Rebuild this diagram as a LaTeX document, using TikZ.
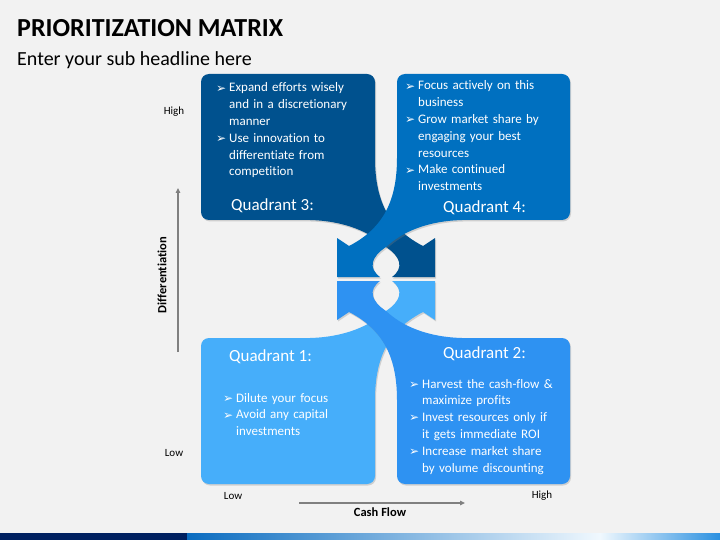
\documentclass[tikz,border=0pt]{standalone}
\usepackage{fontspec}
\setmainfont[Ligatures=NoCommon]{Carlito}
\newfontfamily\symf{DejaVu Sans}
\usetikzlibrary{arrows.meta,shadows}
\definecolor{bg}{RGB}{242,242,242}
\definecolor{qthree}{RGB}{0,81,142}
\definecolor{qfour}{RGB}{0,112,192}
\definecolor{qtwo}{RGB}{46,146,242}
\definecolor{qone}{RGB}{70,174,250}
\definecolor{barnavy}{RGB}{0,32,96}
\definecolor{barblue}{RGB}{10,108,192}
\definecolor{barcyan}{RGB}{40,178,240}
\definecolor{barpale}{RGB}{240,248,254}
\definecolor{barend}{RGB}{42,144,224}
\definecolor{axgray}{RGB}{128,128,128}
\newcommand\qbul{\makebox[13pt][l]{\symf\fontsize{12}{12}\selectfont\raisebox{-.3pt}{➢}}}
\newcommand\qind{\hspace*{13pt}}
\tikzset{
	qbox/.style={drop shadow={opacity=.3,shadow xshift=1pt,shadow yshift=-1.5pt}},
	qtxt/.style={text=white,font=\fontsize{13}{16.8}\selectfont,anchor=base west,inner sep=0pt,text width=170pt,align=left},
	qhead/.style={text=white,font=\fontsize{17}{20}\selectfont,anchor=base west,inner sep=0pt},
	axlbl/.style={font=\fontsize{11}{13}\selectfont,inner sep=0pt},
	axarrow/.style={draw=axgray,line width=1.1pt,-{Triangle[length=5pt,width=4.5pt]}}
}
\begin{document}
\begin{tikzpicture}[x=1pt,y=-1pt]
	\fill[bg](0,0) rectangle (720,540);
	\useasboundingbox (0,0) rectangle (720,540);
	\node[anchor=base west,inner sep=0pt,font=\fontsize{26}{30}\selectfont\bfseries] (title) at (17,37) {PRIORITIZATION MATRIX};
	\node[anchor=base west,inner sep=0pt,font=\fontsize{20}{24}\selectfont] (subtitle) at (17,66) {Enter your sub headline here};
	% ribbons, top pair and mirrored bottom pair
	\foreach \yy/\sh/\ca/\cb in {-1/0/qthree/qfour,1/-558/qone/qtwo}{
	\begin{scope}[y=\yy pt,yshift=\sh pt]
		\fill[\ca,qbox](310,220)[rounded corners=8pt]--(201,220)--(201,74)--(375,74)--(375,150)[sharp corners]
			.. controls (375,205) and (392,230) .. (423,246)--(435,238)--(435,277)--(392,277)
			.. controls (404,268) and (401,257) .. (386,247)
			.. controls (370,232) and (345,221) .. (310,220)--cycle;
		\fill[\cb,qbox](462,220)[rounded corners=8pt]--(570,220)--(570,74)--(397,74)--(397,150)[sharp corners]
			.. controls (397,205) and (380,230) .. (349,246)--(337,238)--(337,277)--(380,277)
			.. controls (368,268) and (371,257) .. (386,247)
			.. controls (402,232) and (427,221) .. (462,220)--cycle;
	\end{scope}}
	% quadrant texts
	\node[qtxt] (q3list) at (216,92) {\qbul Expand efforts wisely\\\qind and in a discretionary\\\qind manner\\\qbul Use innovation to\\\qind differentiate from\\\qind competition};
	\node[qhead] (q3head) at (231,211) {Quadrant 3:};
	\node[qtxt] (q4list) at (405,90) {\qbul Focus actively on this\\\qind business\\\qbul Grow market share by\\\qind engaging your best\\\qind resources\\\qbul Make continued\\\qind investments};
	\node[qhead] (q4head) at (443,212) {Quadrant 4:};
	\node[qhead] (q1head) at (229,361) {Quadrant 1:};
	\node[qtxt] (q1list) at (223,402) {\qbul Dilute your focus\\\qbul Avoid any capital\\\qind investments};
	\node[qhead] (q2head) at (443,358) {Quadrant 2:};
	\node[qtxt] (q2list) at (409,388) {\qbul Harvest the cash-flow \&\\\qind maximize profits\\\qbul Invest resources only if\\\qind it gets immediate ROI\\\qbul Increase market share\\\qind by volume discounting};
	% axes
	\coordinate (dlow) at (178,352);
	\coordinate (dhigh) at (178,188);
	\coordinate (clow) at (299,503);
	\coordinate (chigh) at (465,503);
	\draw[axarrow](dlow)--(dhigh);
	\draw[axarrow](clow)--(chigh);
	\node[axlbl] (dhighlbl) at (174,112) {High};
	\node[axlbl] (dlowlbl) at (174,453) {Low};
	\node[axlbl] (clowlbl) at (233,496) {Low};
	\node[axlbl] (chighlbl) at (542,496) {High};
	\node[axlbl,font=\fontsize{12.5}{14}\selectfont\bfseries,rotate=90] (dname) at (162,275) {Differentiation};
	\node[axlbl,font=\fontsize{12.5}{14}\selectfont\bfseries] (cname) at (380,512) {Cash Flow};
	% bottom bar
	\fill[barnavy](0,533) rectangle (187,540);
	\shade[left color=barblue,middle color=barcyan,right color=barpale](187,533) rectangle (600,540);
	\shade[left color=barpale,right color=barend](600,533) rectangle (720,540);
\end{tikzpicture}
\end{document}
